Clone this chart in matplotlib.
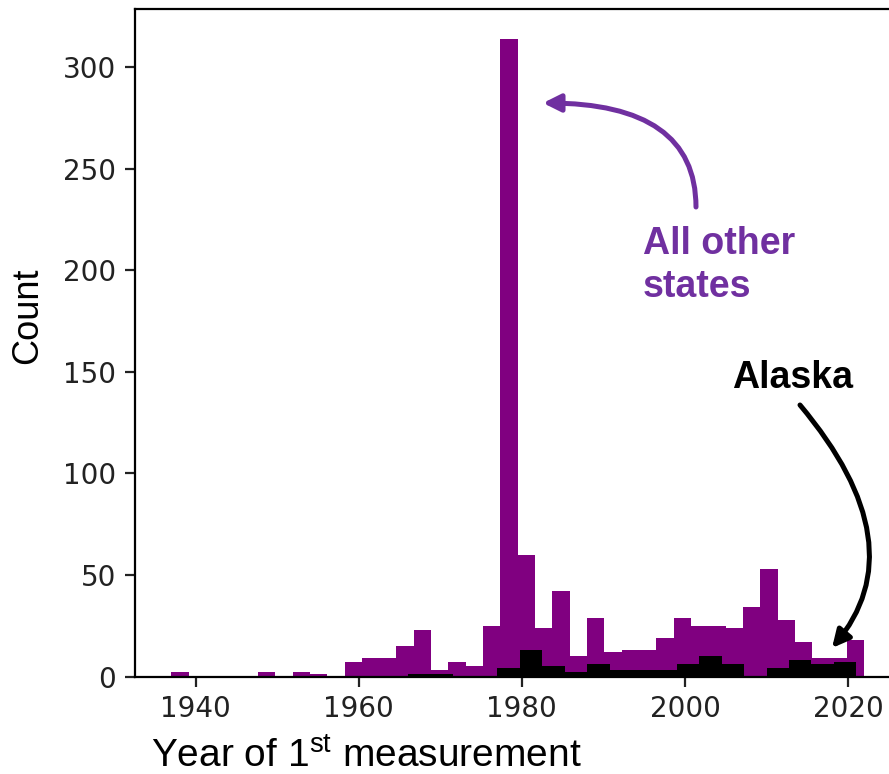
import numpy as np
import matplotlib
matplotlib.use("Agg")
import matplotlib.pyplot as plt

# histogram counts
other_counts = [2, 0, 0, 0, 0, 2, 0, 2, 1, 0,
                7, 9, 9, 15, 23, 3, 7, 5, 25, 314,
                60, 24, 42, 10, 29, 12, 13, 13, 19, 29,
                25, 25, 24, 34, 53, 28, 17, 9, 9, 18]
other_range = (1937, 2022)

alaska_counts = [1, 1, 0, 0, 4, 13, 5, 2, 6, 3,
                 3, 3, 6, 10, 6, 0, 4, 8, 6, 7]
alaska_range = (1966, 2021)

year_ticks = [1940, 1960, 1980, 2000, 2020]
count_ticks = [0, 50, 100, 150, 200, 250, 300]

plt.rcParams["font.family"] = "DejaVu Sans"
plt.rcParams["mathtext.fontset"] = "custom"
plt.rcParams["mathtext.rm"] = "Liberation Sans"

W, H = 889, 774
fig = plt.figure(figsize=(W / 100, H / 100), dpi=100)
ax = fig.add_axes([135 / W, (H - 676.5) / H, (897 - 135) / W, (676.5 - 9) / H])


def hist_from_counts(counts, rng, color):
    edges = np.linspace(rng[0], rng[1], len(counts) + 1)
    centers = (edges[:-1] + edges[1:]) / 2
    ax.hist(centers, bins=edges, weights=counts, color=color)


hist_from_counts(other_counts, other_range, "#800080")
hist_from_counts(alaska_counts, alaska_range, "black")

ax.set_xlim(1932.56, 2026.0)
ax.set_ylim(0, 328.6)
ax.set_xticks(year_ticks)
ax.set_yticks(count_ticks)
ax.tick_params(labelsize=20, length=7.5, width=1.6, colors="#222222", pad=6)
for sp in ax.spines.values():
    sp.set_linewidth(1.6)

fig.text(28 / W, 1 - 316 / H, "Count", rotation=90, ha="center", va="center",
         family="Liberation Sans", fontsize=26)
fig.text(366 / W, 1 - 757 / H, r"Year of 1$^{\mathrm{st}}$ measurement",
         ha="center", va="center", family="Liberation Sans", fontsize=28)

purple_txt = "#7030A0"
ann_font = dict(family="Liberation Sans", fontsize=27, fontweight="bold")
fig.text(643 / W, 1 - 297 / H, "All other\nstates", color=purple_txt,
         ha="left", va="baseline", linespacing=1.25, **ann_font)
fig.text(732 / W, 1 - 388 / H, "Alaska", color="black",
         ha="left", va="baseline", **ann_font)

ax.annotate("", xy=(543, H - 103), xytext=(696, H - 207),
            xycoords="figure pixels", textcoords="figure pixels",
            arrowprops=dict(arrowstyle="-|>", connectionstyle="angle3,angleA=90,angleB=0",
                            color=purple_txt, lw=3.6, mutation_scale=26,
                            shrinkA=0, shrinkB=0))
ax.annotate("", xy=(832, H - 648), xytext=(800, H - 405),
            xycoords="figure pixels", textcoords="figure pixels",
            arrowprops=dict(arrowstyle="-|>", connectionstyle="angle3,angleA=-50,angleB=50",
                            color="black", lw=3.6, mutation_scale=26,
                            shrinkA=0, shrinkB=0))

fig.savefig("out.png", dpi=100)
